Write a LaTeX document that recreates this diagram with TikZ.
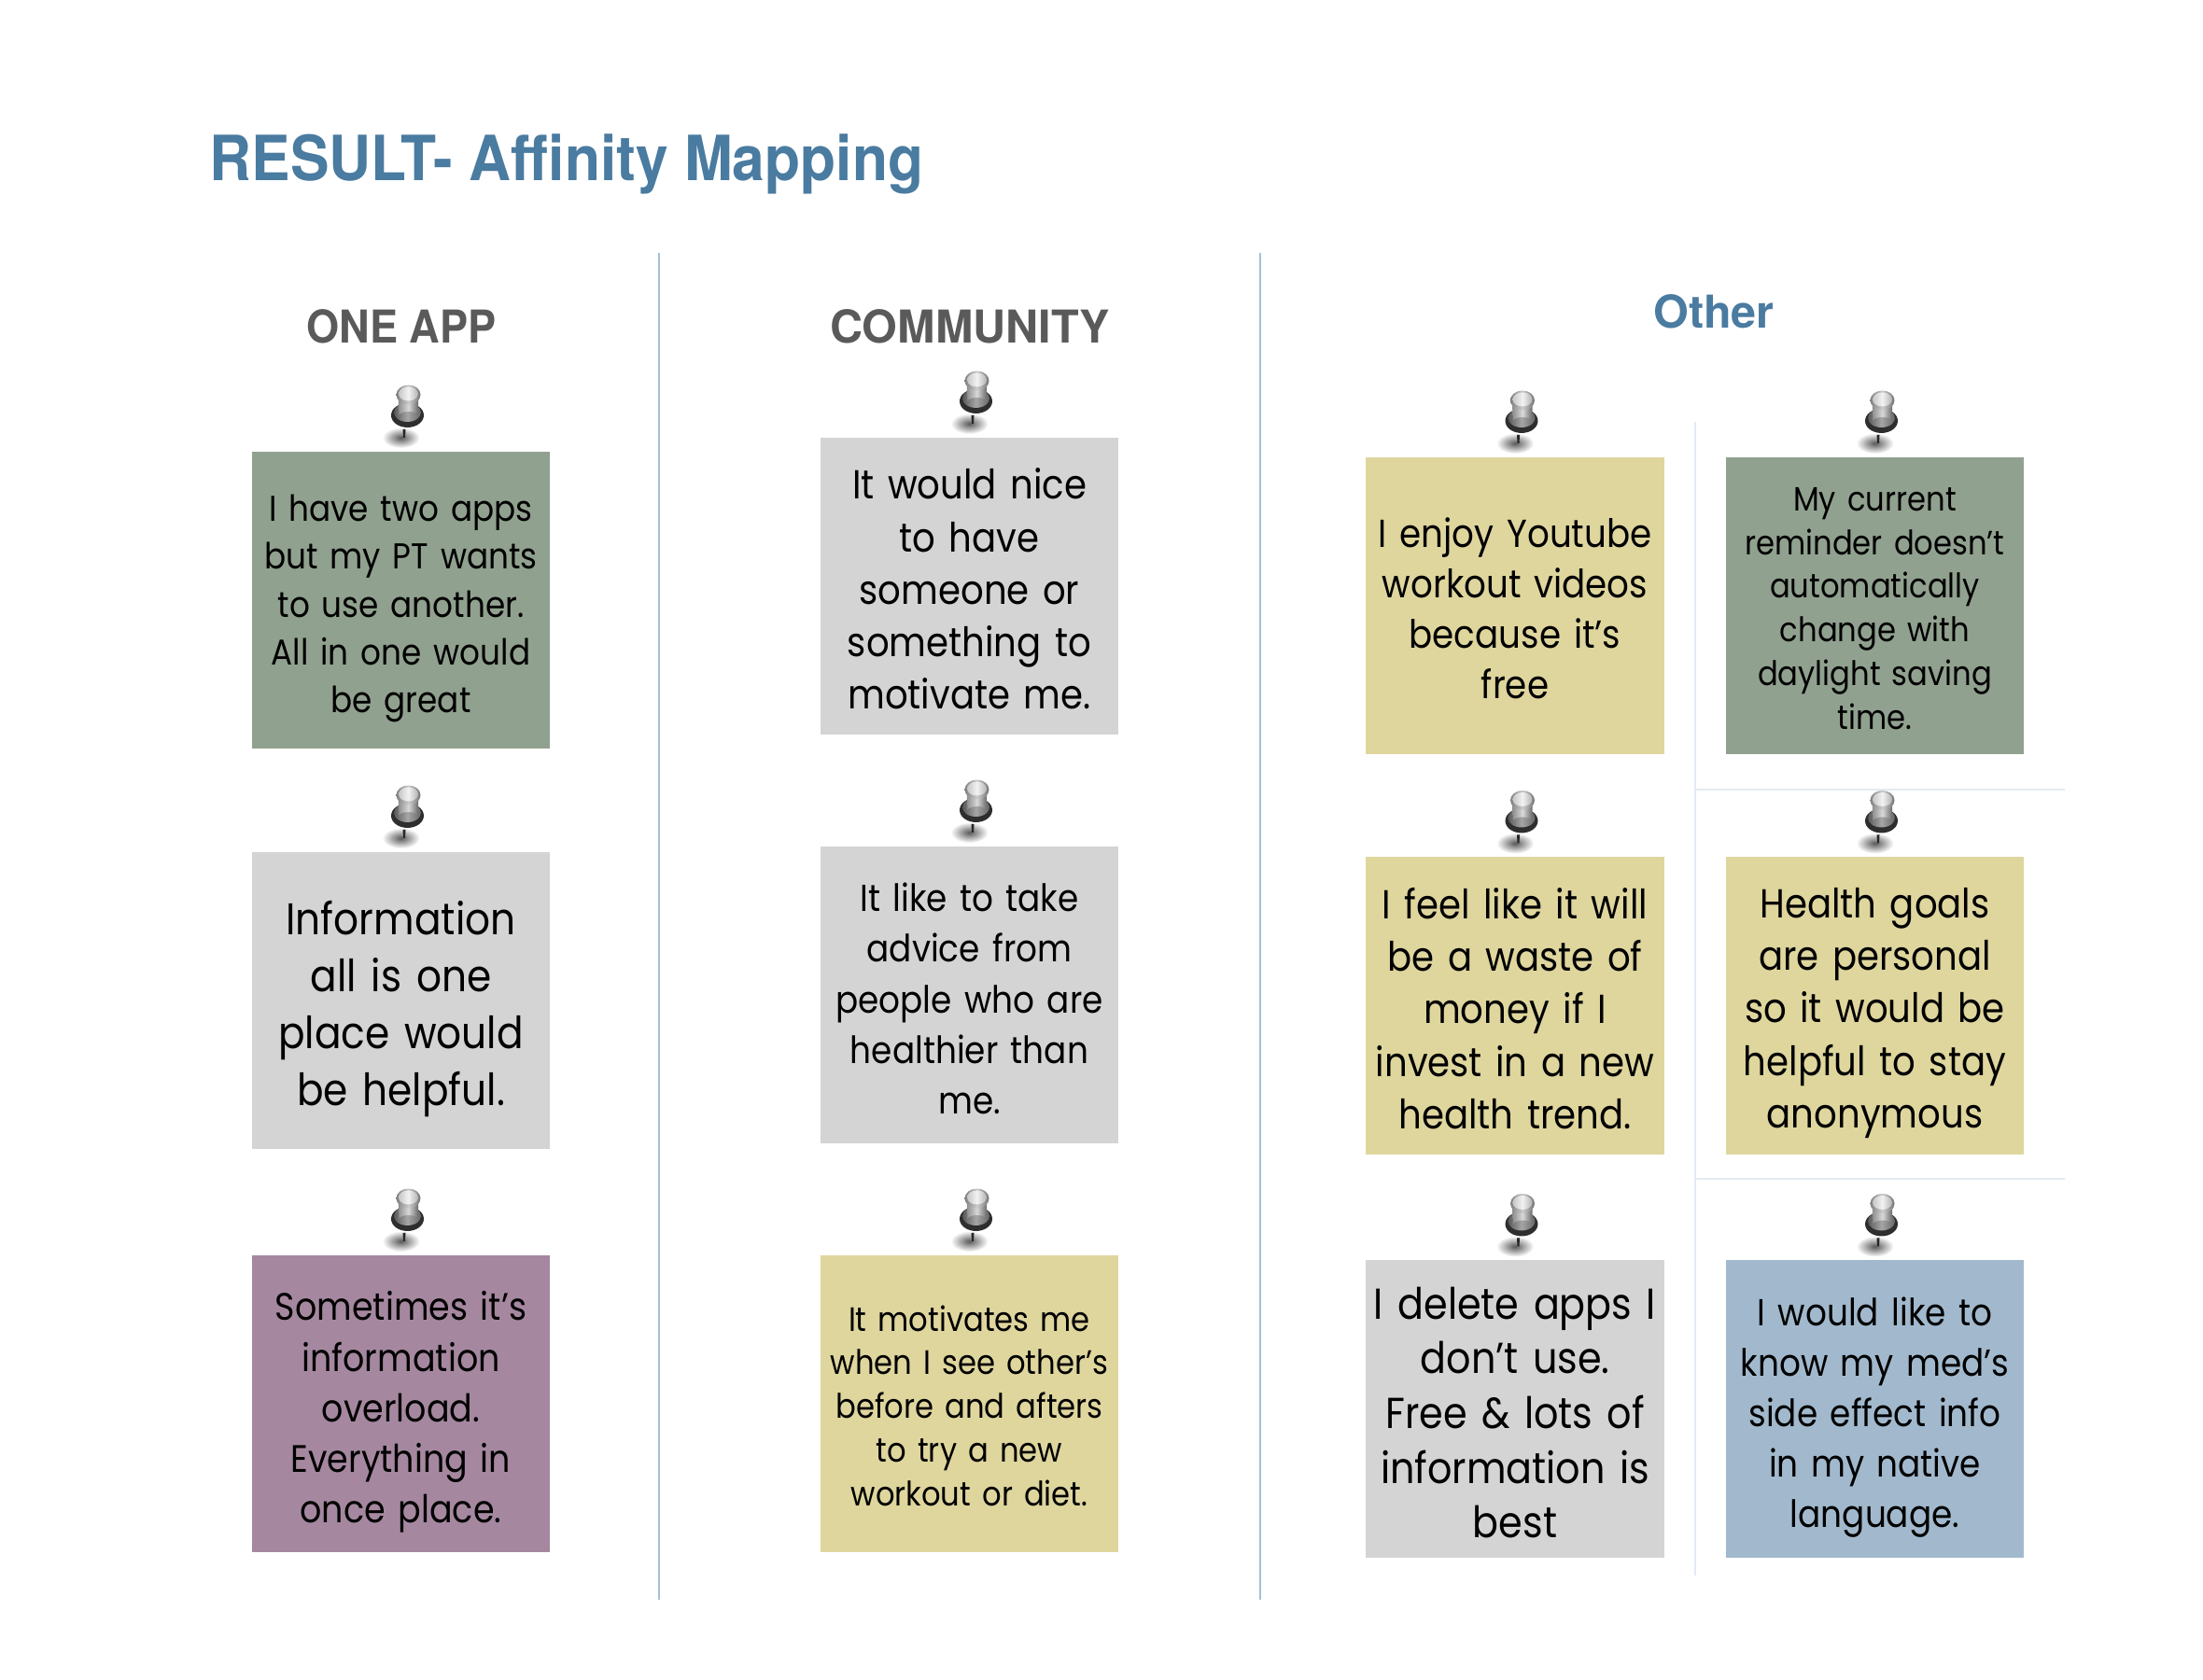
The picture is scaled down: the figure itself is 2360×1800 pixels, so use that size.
\documentclass[tikz,border=0pt]{standalone}
\usepackage{fontspec}
\setmainfont[FakeStretch=0.89]{Poppins}
\newfontfamily\titlefont[FakeStretch=0.932]{TeX Gyre Heros}
\newfontfamily\headfont{TeX Gyre Heros}
\usetikzlibrary{shadings,fadings,calc}
\definecolor{titleblue}{HTML}{4A7BA0}
\definecolor{headgray}{HTML}{5A5A5A}
\definecolor{sepblue}{HTML}{A6BFD6}
\definecolor{seplight}{HTML}{E3EBF1}
\definecolor{sage}{HTML}{91A18F}
\definecolor{lgray}{HTML}{D4D4D4}
\definecolor{mauve}{HTML}{A5889F}
\definecolor{khaki}{HTML}{DFD69E}
\definecolor{skyb}{HTML}{A2B9CD}
\tikzfading[name=softedge,inner color=transparent!35,outer color=transparent!100]
\newcommand{\stickynote}[7]{%
  \node[notebox,fill=#2] (#1) at (#4,#5) {};
  \node[notetext,font=#3] (#1t) at ($(#1.center)+(0,#6)$) {#7};
  \pic at ($(#1.north)+(8,-41)$) {pinpic};
}
\tikzset{
 x=0.01cm,y=-0.01cm,
 notebox/.style={rectangle,minimum width=3.19cm,minimum height=3.185cm,inner sep=0pt},
 notetext/.style={inner sep=0pt,align=center,text width=3.17cm,text=black},
 sep/.style={draw=sepblue,line width=0.02cm},
 seplt/.style={draw=seplight,line width=0.014cm},
 headlabel/.style={font=\headfont\fontsize{13.8pt}{16pt}\selectfont\bfseries,inner sep=0pt},
 pinpic/.pic={
  \fill[black,path fading=softedge] (-8,27) ellipse [x radius=20,y radius=11];
  \fill[black!85] (-6,18) -- (-3,18) -- (-3.5,27) -- (-5.5,27) -- cycle;
  \fill[black!82] (-1,3) ellipse [x radius=17.5,y radius=13];
  \shade[left color=black!65,right color=black!60,middle color=black!35] (-1,0) ellipse [x radius=14.5,y radius=10];
  \shade[left color=black!45,right color=black!60,middle color=black!15] (-11,-19) -- (-10,3) arc[start angle=180,end angle=360,x radius=10,y radius=4] -- (11,-19) -- cycle;
  \shade[left color=black!50,right color=black!55,middle color=black!20] (0,-19) ellipse [x radius=13,y radius=10.5];
  \shade[left color=black!22,right color=black!30,middle color=black!5] (0,-20) ellipse [x radius=10.5,y radius=7.5];
 },
}
\begin{document}
\begin{tikzpicture}
\useasboundingbox (0,0) rectangle (2360,1800);
\node[anchor=west,font=\titlefont\fontsize{19pt}{23pt}\selectfont\bfseries,text=titleblue,inner sep=0pt] (title) at (224,176) {RESULT- Affinity Mapping};
\node[headlabel,text=headgray,xscale=.93] (h1) at (430,350) {ONE APP};
\node[headlabel,text=headgray] (h2) at (1039,350) {COMMUNITY};
\node[headlabel,text=titleblue] (h3) at (1836,334) {Other};
\coordinate (s1a) at (706,271); \coordinate (s1b) at (706,1714);
\coordinate (s2a) at (1350,271); \coordinate (s2b) at (1350,1714);
\coordinate (s3a) at (1816,452); \coordinate (s3b) at (1816,1688);
\coordinate (s4a) at (1816,846); \coordinate (s4b) at (2212,846);
\coordinate (s5a) at (1816,1263); \coordinate (s5b) at (2212,1263);
\draw[sep] (s1a) -- (s1b);
\draw[sep] (s2a) -- (s2b);
\draw[seplt] (s3a) -- (s3b);
\draw[seplt] (s4a) -- (s4b);
\draw[seplt] (s5a) -- (s5b);
\def\fa{\fontsize{10.95pt}{14.6pt}\selectfont}
\def\fe{\fontsize{11.9pt}{15.4pt}\selectfont}
\def\fg{\fontsize{11.45pt}{15.4pt}\selectfont}
\def\fh{\fontsize{11.65pt}{15.4pt}\selectfont}
\def\fb{\fontsize{13.5pt}{17.3pt}\selectfont}
\def\fc{\fontsize{12.35pt}{16pt}\selectfont}
\def\ff{\fontsize{13.2pt}{16.7pt}\selectfont}
\def\fd{\fontsize{10.3pt}{13.3pt}\selectfont}
\stickynote{n11}{sage}{\fa}{429.5}{643}{9}{I have two apps\\but my PT wants\\to use another.\\All in one would\\be great}
\stickynote{n12}{lgray}{\fb}{429.5}{1072}{9}{Information\\all is one\\place would\\be helpful.}
\stickynote{n13}{mauve}{\fh}{429.5}{1504}{9}{Sometimes it’s\\information\\overload.\\Everything in\\once place.}
\stickynote{n21}{lgray}{\fc}{1038.5}{628}{3}{It would nice\\to have\\someone or\\something to\\motivate me.}
\stickynote{n22}{lgray}{\fg}{1038.5}{1066}{4}{It like to take\\advice from\\people who are\\healthier than\\me.}
\stickynote{n23}{khaki}{\fd}{1038.5}{1504}{2}{It motivates me\\when I see other’s\\before and afters\\to try a new\\workout or diet.}
\stickynote{n31}{khaki}{\fe}{1623}{649}{3}{I enjoy Youtube\\workout videos\\because it’s\\free}
\stickynote{n32}{khaki}{\fc}{1623}{1077.5}{3}{I feel like it will\\be a waste of\\money if I\\invest in a new\\health trend.}
\stickynote{n33}{lgray}{\ff}{1623}{1509.5}{4}{I delete apps I\\don’t use.\\Free \& lots of\\information is\\best}
\stickynote{n41}{sage}{\fd}{2008.5}{649}{3}{My current\\reminder doesn’t\\automatically\\change with\\daylight saving\\time.}
\stickynote{n42}{khaki}{\fc}{2008.5}{1077.5}{8}{Health goals\\are personal\\so it would be\\helpful to stay\\anonymous}
\stickynote{n43}{skyb}{\fg}{2008.5}{1509.5}{9}{I would like to\\know my med’s\\side effect info\\in my native\\language.}
\end{tikzpicture}
\end{document}
